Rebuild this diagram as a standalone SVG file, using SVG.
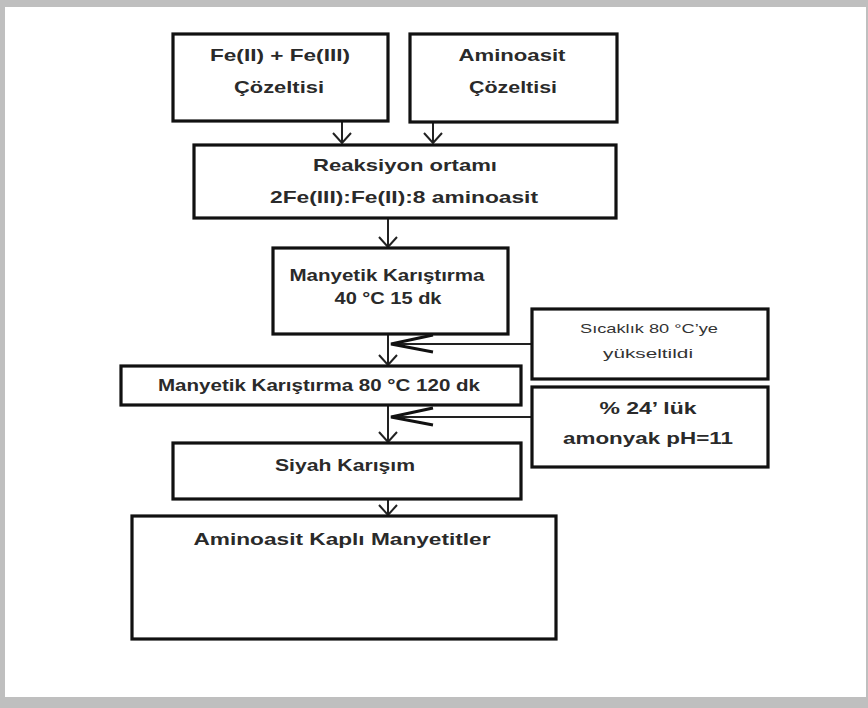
<svg xmlns="http://www.w3.org/2000/svg" width="868" height="708" viewBox="0 0 868 708">
<defs>
<style>
.box{fill:#fff;stroke:#111;stroke-width:3.2}
.t{font-family:"Liberation Sans",Arial,sans-serif;font-weight:bold;font-size:17px;fill:#2a2a2a;text-anchor:middle}
.s{font-size:13px;font-weight:normal;fill:#333}
.c{stroke:#222;stroke-width:2;fill:none}
</style>
<marker id="ah" markerUnits="userSpaceOnUse" markerWidth="24" markerHeight="24" viewBox="-12 -12 24 24" refX="0" refY="0" orient="auto">
<path d="M -10 -9 L 0 0 L -10 9" fill="none" stroke="#222" stroke-width="2"/>
</marker>
<marker id="big" markerUnits="userSpaceOnUse" markerWidth="50" markerHeight="24" viewBox="-46 -12 50 24" refX="0" refY="0" orient="auto">
<path d="M -42 -8 L 0 0 L -42 9" fill="none" stroke="#111" stroke-width="3"/>
</marker>
</defs>
<rect x="0" y="0" width="868" height="708" fill="#bfbfbf"/>
<rect x="5" y="7" width="861" height="690" fill="#fff"/>
<g id="connectors">
<line class="c" x1="342" y1="121" x2="342" y2="143" marker-end="url(#ah)"/>
<line class="c" x1="433" y1="123" x2="433" y2="143" marker-end="url(#ah)"/>
<line class="c" x1="388" y1="219" x2="388" y2="247" marker-end="url(#ah)"/>
<line class="c" x1="388" y1="335" x2="388" y2="365" marker-end="url(#ah)"/>
<line class="c" x1="531" y1="344" x2="391" y2="344" marker-end="url(#big)"/>
<line class="c" x1="388" y1="406" x2="388" y2="442" marker-end="url(#ah)"/>
<line class="c" x1="531" y1="417" x2="391" y2="417" marker-end="url(#big)"/>
<line class="c" x1="388" y1="500" x2="388" y2="515" marker-end="url(#ah)"/>
</g>
<g id="fe">
<rect class="box" x="173" y="34" width="215" height="87"/>
<text class="t" x="280" y="61" textLength="140" lengthAdjust="spacingAndGlyphs">Fe(II) + Fe(III)</text>
<text class="t" x="279" y="93" textLength="90" lengthAdjust="spacingAndGlyphs">Çözeltisi</text>
</g>
<g id="amino">
<rect class="box" x="410" y="34" width="207" height="88"/>
<text class="t" x="512" y="61" textLength="107" lengthAdjust="spacingAndGlyphs">Aminoasit</text>
<text class="t" x="513" y="93" textLength="88" lengthAdjust="spacingAndGlyphs">Çözeltisi</text>
</g>
<g id="reaksiyon">
<rect class="box" x="194" y="145" width="422" height="73"/>
<text class="t" x="405" y="171" textLength="184" lengthAdjust="spacingAndGlyphs">Reaksiyon ortamı</text>
<text class="t" x="404" y="203" textLength="268" lengthAdjust="spacingAndGlyphs">2Fe(III):Fe(II):8 aminoasit</text>
</g>
<g id="karistirma1">
<rect class="box" x="273" y="248" width="235" height="86"/>
<text class="t" x="387" y="281" textLength="195" lengthAdjust="spacingAndGlyphs">Manyetik Karıştırma</text>
<text class="t" x="388" y="304" textLength="107" lengthAdjust="spacingAndGlyphs">40 °C 15 dk</text>
</g>
<g id="sicaklik">
<rect class="box" x="532" y="309" width="236" height="70"/>
<text class="t s" x="649" y="333" textLength="138" lengthAdjust="spacingAndGlyphs">Sıcaklık 80 °C’ye</text>
<text class="t s" x="648" y="358" textLength="90" lengthAdjust="spacingAndGlyphs">yükseltildi</text>
</g>
<g id="karistirma2">
<rect class="box" x="121" y="366" width="400" height="39"/>
<text class="t" x="319" y="391" textLength="322" lengthAdjust="spacingAndGlyphs">Manyetik Karıştırma 80 °C 120 dk</text>
</g>
<g id="amonyak">
<rect class="box" x="532" y="387" width="236" height="80"/>
<text class="t" x="648" y="414" font-size="18" textLength="97" lengthAdjust="spacingAndGlyphs">% 24’ lük</text>
<text class="t" x="648" y="444" font-size="18" textLength="170" lengthAdjust="spacingAndGlyphs">amonyak pH=11</text>
</g>
<g id="siyah">
<rect class="box" x="173" y="443" width="348" height="56"/>
<text class="t" x="345" y="471" textLength="140" lengthAdjust="spacingAndGlyphs">Siyah Karışım</text>
</g>
<g id="sonuc">
<rect class="box" x="132" y="516" width="424" height="123"/>
<text class="t" x="342" y="545" textLength="297" lengthAdjust="spacingAndGlyphs">Aminoasit Kaplı Manyetitler</text>
</g>
</svg>
